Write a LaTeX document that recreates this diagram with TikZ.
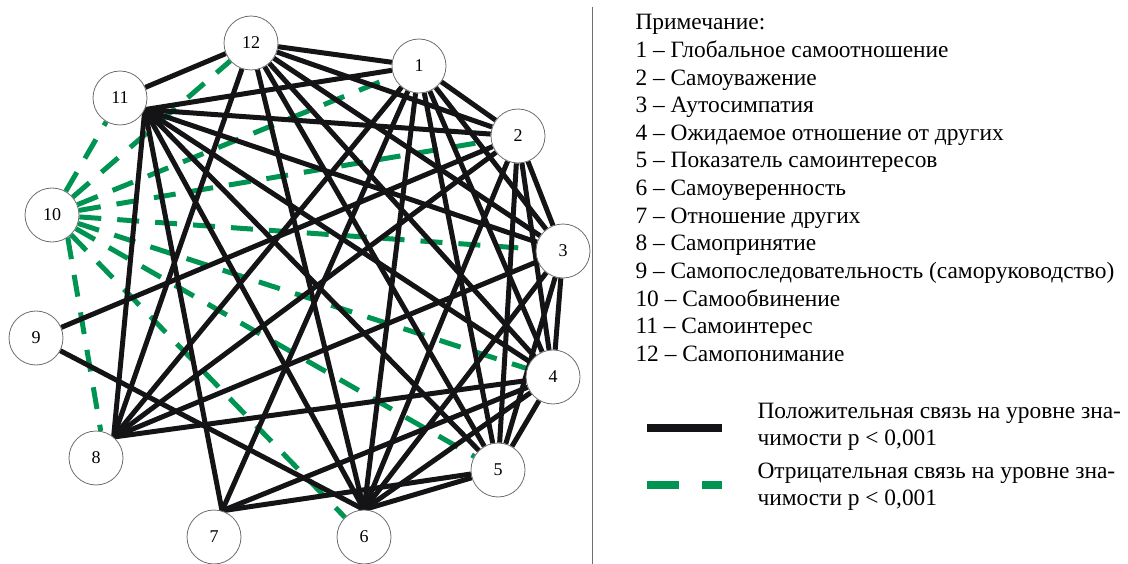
\documentclass[tikz,border=0pt]{standalone}
\usepackage{fontspec}
\setmainfont{Liberation Serif}
\usetikzlibrary{positioning, backgrounds}
\definecolor{posc}{RGB}{20,20,22}
\definecolor{negc}{RGB}{0,148,82}
\definecolor{ringc}{RGB}{110,110,110}
\tikzset{
  vtx/.style={circle, draw=ringc, line width=0.8pt, fill=white, minimum size=54pt,
              inner sep=0pt, font=\fontsize{18}{20}\selectfont},
  posl/.style={draw=posc, line width=5pt},
  negl/.style={draw=negc, line width=5pt, dash pattern=on 22pt off 16pt},
  note/.style={anchor=base west, font=\fontsize{23.4}{27}\selectfont},
}

\begin{document}
\begin{tikzpicture}[x=1pt, y=-1pt]
  \useasboundingbox (0,0) rectangle (1128,564);

  % vertices
  \foreach \n/\px/\py in {1/419/66, 2/518/136, 3/563/251, 4/553/377, 5/498/470,
      6/364/537, 7/214/537, 8/96/458, 9/36/338, 10/52/215, 11/120/98, 12/251/43}
    \node[vtx] (n\n) at (\px,\py) {\n};

  % ports where the lines meet
  \coordinate (p11) at (n11.-25);
  \coordinate (p8) at (n8.50);
  \coordinate (p6) at (n6.90);
  \coordinate (p7) at (n7.73);

  \begin{scope}[on background layer]
  % negative links
  \foreach \b in {n1, n2, n3, n4, n5, n6, n11, n12}
    \draw[negl] (n10) -- (\b);
  \draw[negl] (n10.-55) -- (n8.80);

  % positive links
  \foreach \a/\b in {n12/n1, n12/n11, n12/p8, n12/p6, n12/n2, n12/n3, n12/n4, n12/n5,
      n1/p11, n1/n2, n1/n3, n1/n4, n1/n5, n1/p6, n1/p7, n1/p8,
      n2/p11, n2/n3, n2/n4, n2/n5, n2/p6, n2/p8, n2/n9,
      n3/p11, n3/n4, n3/n5, n3/p6, n3/p8,
      n4/p11, n4/n5, n4/p6, n4/p7, n4/p8,
      n5/p11, n5/p6, n5/p7,
      p6/p11, p6/n9, p7/p11, p8/p11}
    \draw[posl] (\a) -- (\b);
  \end{scope}

  \draw[ringc, line width=0.7pt] (592,7) -- (592,564);

  % key
  \foreach \t [count=\i from 0] in {Примечание:, 1 -- Глобальное самоотношение,
      2 -- Самоуважение, 3 -- Аутосимпатия, 4 -- Ожидаемое отношение от других,
      5 -- Показатель самоинтересов, 6 -- Самоуверенность, 7 -- Отношение других,
      8 -- Самопринятие, 9 -- Самопоследовательность (саморуководство),
      10 -- Самообвинение, 11 -- Самоинтерес, 12 -- Самопонимание}
    \node[note] (k\i) at (632,30+27.6*\i) {\t};

  % legend
  \coordinate (lp1) at (647,428);
  \coordinate (lp2) at (722,428);
  \draw[posc, line width=8pt] (lp1) -- (lp2);
  \coordinate (ln1) at (647,485);
  \coordinate (ln2) at (722,485);
  \draw[negc, line width=8pt, dash pattern=on 32pt off 23pt] (ln1) -- (ln2);
  \node[note] (lt1) at (754,418) {Положительная связь на уровне зна-};
  \node[note] (lt2) at (754,445) {чимости p < 0,001};
  \node[note] (lt3) at (754,478) {Отрицательная связь на уровне зна-};
  \node[note] (lt4) at (754,505) {чимости p < 0,001};
\end{tikzpicture}
\end{document}
